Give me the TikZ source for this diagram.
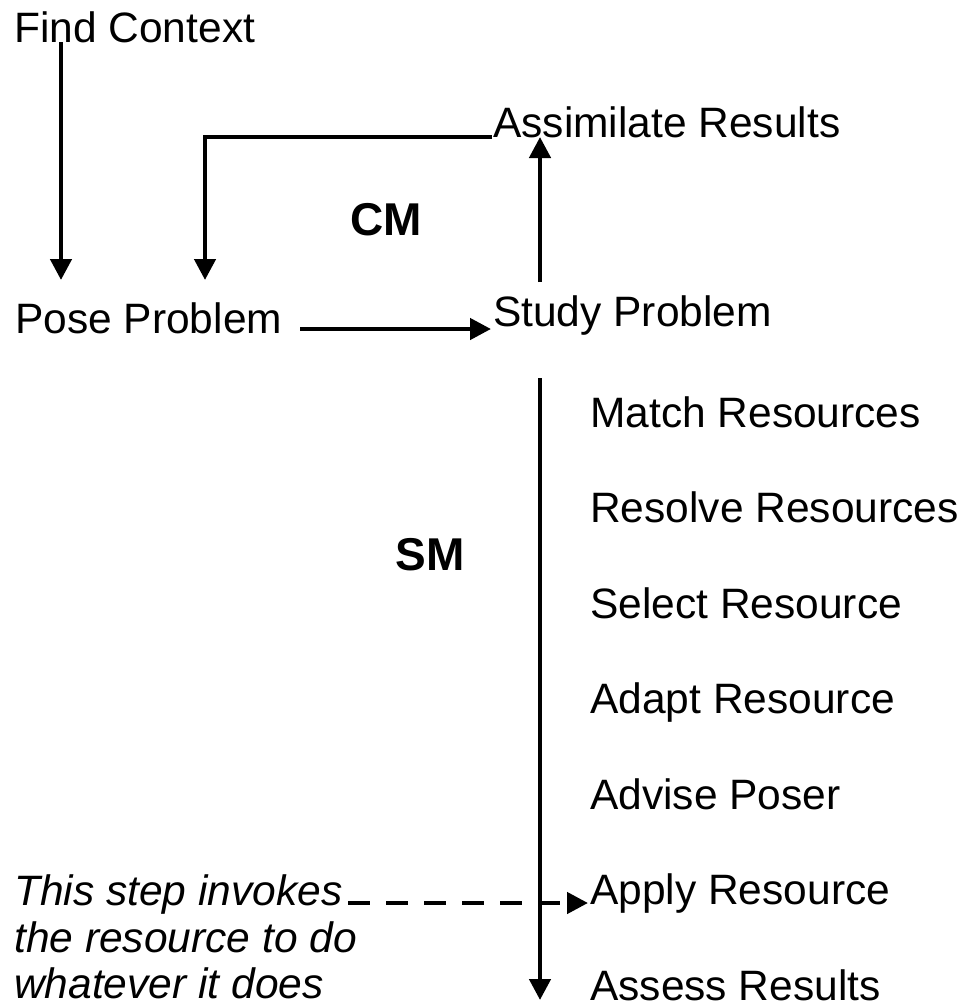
\documentclass[tikz,border=0pt]{standalone}
\usepackage{fontspec}
\setmainfont{Liberation Sans}
\usetikzlibrary{arrows.meta}
\tikzset{
  lbl/.style={anchor=base west, inner sep=0pt, font=\fontsize{42.5}{47}\selectfont},
  bold/.style={anchor=base, inner sep=0pt, font=\fontsize{46}{50}\selectfont\bfseries},
  note/.style={anchor=base west, inner sep=0pt, font=\fontsize{42.5}{47}\selectfont\itshape},
  conn/.style={line width=4.5pt, -{Triangle[length=21pt,width=21pt]}},
  dashconn/.style={line width=4.5pt, dash pattern=on 22pt off 16pt, -{Triangle[length=21pt,width=21pt]}}
}
\begin{document}
\begin{tikzpicture}[x=1pt,y=-1pt]
\useasboundingbox (0,0) rectangle (962,1007);
% texts
\node[lbl] (fc) at (14,42) {Find Context};
\node[lbl] (ar) at (493,137) {Assimilate Results};
\node[bold] (cm) at (386,235) {CM};
\node[lbl] (pp) at (15,333) {Pose Problem};
\node[lbl] (sp) at (493,326) {Study Problem};
\node[bold] (sm) at (430,570) {SM};
\node[lbl] (mr) at (590,427) {Match Resources};
\node[lbl] (rr) at (590,522.5) {Resolve Resources};
\node[lbl] (sr) at (590,618) {Select Resource};
\node[lbl] (adr) at (590,713.5) {Adapt Resource};
\node[lbl] (ap) at (590,809) {Advise Poser};
\node[lbl] (apr) at (590,904.5) {Apply Resource};
\node[lbl] (as) at (590,1000) {Assess Results};
\node[note] (n1) at (14,905) {This step invokes};
\node[note] (n2) at (14,952) {the resource to do};
\node[note] (n3) at (14,998) {whatever it does};
% connector end points
\coordinate (fcs) at (61,42);
\coordinate (ppn1) at (61,280);
\coordinate (arw) at (492,137);
\coordinate (bend) at (205,137);
\coordinate (ppn2) at (205,280);
\coordinate (ppe) at (300,329);
\coordinate (spw) at (491,329);
\coordinate (spn) at (540,282);
\coordinate (ars) at (540,137);
\coordinate (smt) at (540,378);
\coordinate (smb) at (540,1000);
\coordinate (n1e) at (348,903);
\coordinate (aprw) at (588,903);
% connectors
\draw[conn] (fcs) -- (ppn1);
\draw[conn] (arw) -- (bend) -- (ppn2);
\draw[conn] (ppe) -- (spw);
\draw[conn] (spn) -- (ars);
\draw[conn] (smt) -- (smb);
\draw[dashconn] (n1e) -- (aprw);
\end{tikzpicture}
\end{document}
